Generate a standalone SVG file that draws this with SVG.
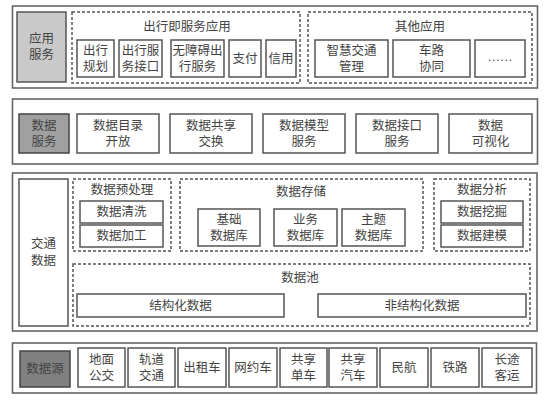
<svg xmlns="http://www.w3.org/2000/svg" width="550" height="402" viewBox="0 0 550 402">
<style>
.sec{fill:#fff;stroke:#666;stroke-width:1.6}
.box{fill:#fff;stroke:#555;stroke-width:1.5}
.dash{fill:none;stroke:#555;stroke-width:1.5;stroke-dasharray:3 2}
.g1{fill:#c9c9c9;stroke:#555;stroke-width:1.5}
.g2{fill:#a0a0a0;stroke:#444;stroke-width:1.5}
.g3{fill:#808080;stroke:#444;stroke-width:1.5}
text{font-family:"Liberation Serif","Noto Sans CJK SC",serif;font-size:12.5px;fill:#444;text-anchor:middle;dominant-baseline:central}
</style>
<rect width="550" height="402" fill="#fff"/>
<g id="layer-app">
<rect class="sec" x="12.5" y="6" width="525" height="82"/>
<g id="app-service"><rect class="g1" x="17" y="12" width="49" height="70"/><text x="41.5" y="39">应用</text><text x="41.5" y="55">服务</text></g>
<g id="maas"><rect class="dash" x="72" y="12" width="228" height="71"/><text x="187" y="27">出行即服务应用</text>
<g id="n-trip-plan"><rect class="box" x="77" y="40" width="37" height="37"/><text x="95.5" y="50.5">出行</text><text x="95.5" y="66.5">规划</text></g>
<g id="n-trip-api"><rect class="box" x="119" y="40" width="43" height="37"/><text x="140.5" y="50.5">出行服</text><text x="140.5" y="66.5">务接口</text></g>
<g id="n-barrier"><rect class="box" x="171" y="40" width="53" height="37"/><text x="197.5" y="50.5">无障碍出</text><text x="197.5" y="66.5">行服务</text></g>
<g id="n-pay"><rect class="box" x="229" y="40" width="32" height="37"/><text x="245" y="58.5">支付</text></g>
<g id="n-credit"><rect class="box" x="266" y="40" width="30" height="37"/><text x="281" y="58.5">信用</text></g>
</g>
<g id="other-app"><rect class="dash" x="308" y="12" width="224" height="71"/><text x="420" y="27">其他应用</text>
<g id="n-smart"><rect class="box" x="315" y="40" width="73" height="37"/><text x="351.5" y="50.5">智慧交通</text><text x="351.5" y="66.5">管理</text></g>
<g id="n-v2x"><rect class="box" x="393" y="40" width="77" height="37"/><text x="431.5" y="50.5">车路</text><text x="431.5" y="66.5">协同</text></g>
<g id="n-more"><rect class="box" x="475" y="40" width="50" height="37"/><text x="500" y="57">……</text></g>
</g>
</g>
<g id="layer-dataservice">
<rect class="sec" x="12.5" y="99" width="525" height="65"/>
<g id="data-service"><rect class="g2" x="19" y="114" width="50" height="39"/><text x="44" y="125.5">数据</text><text x="44" y="141.5">服务</text></g>
<g id="n-catalog"><rect class="box" x="77" y="114" width="82" height="39"/><text x="118" y="125.5">数据目录</text><text x="118" y="141.5">开放</text></g>
<g id="n-share"><rect class="box" x="170" y="114" width="82" height="39"/><text x="211" y="125.5">数据共享</text><text x="211" y="141.5">交换</text></g>
<g id="n-model"><rect class="box" x="263" y="114" width="82" height="39"/><text x="304" y="125.5">数据模型</text><text x="304" y="141.5">服务</text></g>
<g id="n-iface"><rect class="box" x="356" y="114" width="82" height="39"/><text x="397" y="125.5">数据接口</text><text x="397" y="141.5">服务</text></g>
<g id="n-vis"><rect class="box" x="449" y="114" width="83" height="39"/><text x="490.5" y="125.5">数据</text><text x="490.5" y="141.5">可视化</text></g>
</g>
<g id="layer-traffic">
<rect class="sec" x="12.5" y="173" width="524.5" height="158"/>
<g id="traffic-data"><rect class="box" x="19" y="179" width="49" height="147"/><text x="43.5" y="244">交通</text><text x="43.5" y="261">数据</text></g>
<g id="preprocess"><rect class="dash" x="73" y="179" width="98" height="72"/><text x="122" y="190">数据预处理</text>
<g id="n-clean"><rect class="box" x="80" y="201" width="83" height="22"/><text x="121.5" y="212">数据清洗</text></g>
<g id="n-process"><rect class="box" x="80" y="225" width="83" height="22"/><text x="121.5" y="236">数据加工</text></g>
</g>
<g id="storage"><rect class="dash" x="180" y="179" width="243" height="72"/><text x="301" y="192">数据存储</text>
<g id="n-basic"><rect class="box" x="198" y="209" width="62" height="37"/><text x="229" y="219.5">基础</text><text x="229" y="235.5">数据库</text></g>
<g id="n-biz"><rect class="box" x="274" y="209" width="63" height="37"/><text x="305.5" y="219.5">业务</text><text x="305.5" y="235.5">数据库</text></g>
<g id="n-topic"><rect class="box" x="342" y="209" width="63" height="37"/><text x="373.5" y="219.5">主题</text><text x="373.5" y="235.5">数据库</text></g>
</g>
<g id="analysis"><rect class="dash" x="434" y="179" width="96" height="72"/><text x="482" y="190">数据分析</text>
<g id="n-mining"><rect class="box" x="441" y="201" width="82" height="22"/><text x="482" y="212">数据挖掘</text></g>
<g id="n-modeling"><rect class="box" x="441" y="225" width="82" height="22"/><text x="482" y="236">数据建模</text></g>
</g>
<g id="pool"><rect class="dash" x="73" y="264" width="457" height="62"/><text x="300" y="278">数据池</text>
<g id="n-struct"><rect class="box" x="77" y="294" width="207" height="23"/><text x="180.5" y="305.5">结构化数据</text></g>
<g id="n-unstruct"><rect class="box" x="318" y="294" width="208" height="23"/><text x="422" y="305.5">非结构化数据</text></g>
</g>
</g>
<g id="layer-source">
<rect class="sec" x="12.5" y="343" width="524" height="50"/>
<g id="data-source"><rect class="g3" x="20" y="351" width="50" height="36"/><text x="45" y="369">数据源</text></g>
<g id="n-bus"><rect class="box" x="78" y="348" width="47" height="39"/><text x="101.5" y="359.5">地面</text><text x="101.5" y="375.5">公交</text></g>
<g id="n-rail"><rect class="box" x="128" y="348" width="47" height="39"/><text x="151.5" y="359.5">轨道</text><text x="151.5" y="375.5">交通</text></g>
<g id="n-taxi"><rect class="box" x="178" y="348" width="48" height="39"/><text x="202" y="367.5">出租车</text></g>
<g id="n-ride"><rect class="box" x="229" y="348" width="48" height="39"/><text x="253" y="367.5">网约车</text></g>
<g id="n-bike"><rect class="box" x="280" y="348" width="47" height="39"/><text x="303.5" y="359.5">共享</text><text x="303.5" y="375.5">单车</text></g>
<g id="n-car"><rect class="box" x="329" y="348" width="48" height="39"/><text x="353" y="359.5">共享</text><text x="353" y="375.5">汽车</text></g>
<g id="n-air"><rect class="box" x="380" y="348" width="48" height="39"/><text x="404" y="367.5">民航</text></g>
<g id="n-train"><rect class="box" x="431" y="348" width="48" height="39"/><text x="455" y="367.5">铁路</text></g>
<g id="n-coach"><rect class="box" x="482" y="348" width="50" height="39"/><text x="507" y="359.5">长途</text><text x="507" y="375.5">客运</text></g>
</g>
<g id="connectors"/>
</svg>
